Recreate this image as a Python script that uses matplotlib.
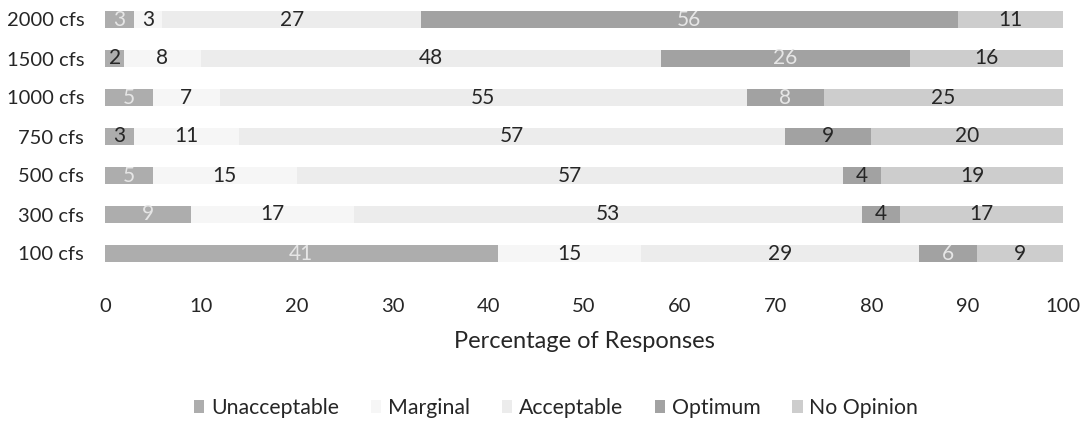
import matplotlib
matplotlib.use("Agg")
import matplotlib.pyplot as plt
from matplotlib.patches import Patch
import numpy as np

# Flow levels and response shares (percent), top row first
flows = ["2000 cfs", "1500 cfs", "1000 cfs", "750 cfs", "500 cfs", "300 cfs", "100 cfs"]
unacceptable = [3, 2, 5, 3, 5, 9, 41]
marginal = [3, 8, 7, 11, 15, 17, 15]
acceptable = [27, 48, 55, 57, 57, 53, 29]
optimum = [56, 26, 8, 9, 4, 4, 6]
no_opinion = [11, 16, 25, 20, 19, 17, 9]

series_names = ["Unacceptable", "Marginal", "Acceptable", "Optimum", "No Opinion"]
series_values = [unacceptable, marginal, acceptable, optimum, no_opinion]
series_colors = ["#adadad", "#f6f6f6", "#ececec", "#a2a2a2", "#cdcdcd"]

x_ticks = [0, 10, 20, 30, 40, 50, 60, 70, 80, 90, 100]

# segments whose value labels are printed in a pale tone (row, series)
pale_labels = {(0, 0), (0, 3), (1, 3), (2, 0), (2, 3), (4, 0), (5, 0), (6, 0), (6, 3)}

plt.rcParams["font.family"] = ["Lato", "DejaVu Sans"]
text_color = "#262626"

fig = plt.figure(figsize=(10.86, 4.21), dpi=100)
W, H = 1086, 421
ax_left, ax_right, ax_top, ax_bottom = 105, 1063, 0, 288
ax = fig.add_axes([ax_left / W, 1 - ax_bottom / H, (ax_right - ax_left) / W, (ax_bottom - ax_top) / H])

y = np.arange(len(flows))
left = np.zeros(len(flows))
for s, (name, vals, col) in enumerate(zip(series_names, series_values, series_colors)):
    vals = np.array(vals, dtype=float)
    ax.barh(y, vals, left=left, height=0.43, color=col, label=name, edgecolor="none")
    for r, (l, v) in enumerate(zip(left, vals)):
        c = "#e6e6e6" if (r, s) in pale_labels else text_color
        ax.text(l + v / 2, r, f"{int(v)}", ha="center", va="center",
                fontsize=15, color=c)
    left += vals

ax.set_xlim(0, 100)
ax.set_ylim(6 + 34.5 / 39, -0.5)
ax.set_yticks(y)
ax.set_yticklabels(flows)
ax.set_xticks(x_ticks)
ax.tick_params(axis="both", length=0, labelsize=14.5, colors=text_color)
ax.tick_params(axis="x", pad=7)
ax.tick_params(axis="y", pad=15)
for sp in ax.spines.values():
    sp.set_visible(False)

ax.set_xlabel("Percentage of Responses", fontsize=17, color=text_color, labelpad=12)

handles = [Patch(facecolor=c, edgecolor="none", label=n) for n, c in zip(series_names, series_colors)]
fig.legend(handles=handles, loc="center", bbox_to_anchor=(556 / W, 1 - 408 / H),
           ncol=5, frameon=False, fontsize=15.3, handlelength=0.5, handleheight=0.5,
           handletextpad=0.3, columnspacing=1.5, labelcolor=text_color)

fig.savefig("out.png", dpi=100, facecolor="white")
